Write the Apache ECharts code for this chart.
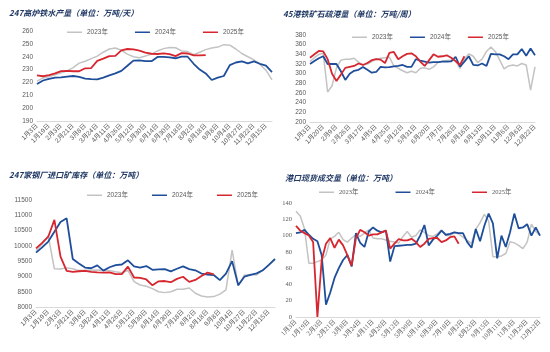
<!DOCTYPE html>
<html>
<head>
<meta charset="utf-8">
<script src="https://cdn.jsdelivr.net/npm/echarts@6/dist/echarts.min.js"></script>
<style>
html, body { margin: 0; padding: 0; background: #fff; }
#chart { width: 550px; height: 352px; }
</style>
</head>
<body>
<div id="chart"></div>
<script>
// 247高炉铁水产量 / 247家钢厂进口矿库存 的日期轴
const datesA = ['1月3日','1月11日','1月19日','1月26日','2月3日','2月12日','2月21日','2月28日','3月8日','3月15日',
    '3月24日','4月2日','4月11日','4月18日','4月26日','5月4日','5月12日','5月21日','5月30日','6月6日',
    '6月14日','6月22日','6月30日','7月9日','7月18日','7月25日','8月2日','8月9日','8月18日','8月28日',
    '9月8日','9月20日','10月4日','10月16日','10月27日','11月9日','11月22日','12月3日','12月15日','12月25日'];
// 45港疏港量 的日期轴
const datesB = ['1月3日','1月10日','1月13日','1月20日','1月27日','2月2日','2月9日','2月16日','2月19日','2月26日',
    '3月3日','3月10日','3月17日','3月24日','3月31日','4月5日','4月14日','4月18日','4月25日','4月28日',
    '5月5日','5月12日','5月19日','5月26日','5月31日','6月9日','6月16日','6月20日','6月23日','6月30日',
    '7月7日','7月14日','7月21日','7月26日','8月4日','8月11日','8月16日','8月25日','9月1日','9月13日',
    '9月22日','10月6日','10月11日','10月20日','10月27日','11月6日','11月10日','11月17日','12月6日','12月8日',
    '12月15日','12月22日'];
// 港口现货成交量 的日期轴
const datesC = ['1月3日','1月8日','1月13日','1月19日','1月24日','1月29日','2月3日','2月9日','2月15日','2月21日',
    '2月26日','3月3日','3月8日','3月13日','3月19日','3月24日','3月30日','4月5日','4月11日','4月16日',
    '4月21日','4月26日','5月2日','5月7日','5月12日','5月18日','5月24日','5月30日','6月4日','6月9日',
    '6月14日','6月19日','6月25日','6月30日','7月6日','7月12日','7月18日','7月23日','7月28日','8月2日',
    '8月9日','8月16日','8月23日','8月30日','9月7日','9月15日','9月23日','10月1日','10月11日','10月19日',
    '10月26日','11月3日','11月12日','11月20日','11月29日','12月7日','12月15日','12月22日'];

const years = ['2023年', '2024年', '2025年'];

const furnace2023 = [221,223.5,224.5,226,227.5,229,231.5,235,236.5,238.5,240.5,243.5,246,246.8,245,242,240,239.2,240.5,242,
    244.5,246.3,247.2,247,244.5,244,241.5,243.5,245.5,246.8,247.5,249.4,249,246,242.5,240,237.5,234,229.5,222];
const furnace2024 = [218.8,221.5,222.7,223.7,224,224.5,225,224.3,223,222.5,222.3,223.8,225.5,227,229,233,237,237.2,236.5,236.5,
    239.8,239.8,239.5,238.8,240,240,234.5,230,227,221.9,223.8,225,233.5,235.5,236.4,234.8,236.4,234.5,233,228];
const furnace2025 = [225.5,224.8,225.6,227,228.8,229,228.7,228.7,231,231.2,236.8,238.5,240.5,240.6,245,246,245.7,244.7,243.2,242.3,
    242.1,242.6,242,240.5,242.8,242.5,241,241,241.3];

const port2023 = [325,333,340,342,262,275,312,328,330,330,332,324,318,320,325,330,332,333,334,316,
    311,306,302,305,302,311,312,309,314,323,326,327,328,326,311,330,341,336,323,330,
    346,355,346,328,310,316,318,316,321,318,266,314];
const port2024 = [320,326,332,336,320,320,320,305,287,300,306,308,314,308,302,303.5,314,313,313.5,315,
    316,318,314,314,330,327,325,323,324,324,325,325,325.5,335,314.5,325,336,318,317,321,
    316,341,340,340,336,330,340,340,351,337,352,338];
const port2025 = [333,340,347,346,330,300,285,298,312,314,316,321,318,322,328,330,329,322,343,345,
    330,336,341,342,336,325,316,328,340,335,336,338,333,326,318,336];

const stock2023 = [9850,10050,10330,9250,9240,9280,9250,9190,9200,9205,9212,9200,9190,9150,9120,9200,8830,8720,8680,8600,
    8500,8470,8500,8580,8580,8620,8450,8360,8330,8340,8420,8560,9860,8700,9040,9060,9050,9200,9380,9560];
const stock2024 = [9780,9950,10140,10460,10780,10900,9570,9420,9290,9267,9360,9190,9300,9370,9390,9528,9330,9290,9340,9215,
    9230,9240,9165,9250,9330,9240,9200,9095,9060,9045,8880,9090,9500,8710,8990,9050,9100,9200,9380,9570];
const stock2025 = [9920,10100,10300,10850,9650,9180,9150,9170,9180,9150,9135,9125,9130,9075,9075,9322,8965,8950,8900,8710,
    8840,8850,8810,8920,8990,8820,8885,9016,9125,9070];

const trade2023 = [130,124,108,66,66,68,70,76,96,99,104,95,92,97,101,99,103,107,97,96,
    96,94.6,93,92,91,99,105,98,100,107,104,100,99,102,107,100,100,104,102,98,
    94,90.5,108,116,126,118,74,74,75,78,92.5,91,88,84,92,114,105,100];
const trade2024 = [103,104,107,101,96,93,76,15,30,48,60,70,76,62,103,91,86,105,110,106,
    104,106,68,87,87.5,88,88.5,88.5,90,100,113,88,95,100,106,101,102,104,103,103,
    92,85,108,93,112,127,115,72,100,86,104,127,109,110,114,100,110,100];
const trade2025 = [112,106,103,100,92,0,70,90,97,85,95,88,76,63,97,107,104,100,101.5,101.5,
    104,106,84,90,95.8,94,94,96,92,86,90,96,97,97,92,94,98,99,90];

const colors = { '2023年': '#C3C3C3', '2024年': '#1F4E9A', '2025年': '#D6262F' };
const labelColor = '#595959';
const sansFont = 'Liberation Sans, "Noto Sans CJK SC", sans-serif';
const serifFont = 'Liberation Serif, "Noto Sans CJK SC", serif';

const panels = [
    { title: '247高炉铁水产量（单位：万吨/天）', tx: 4, ty: 4, dates: datesA, step: 1,
      grid: { left: 37, top: 31, width: 235, height: 90 }, min: 190, max: 260, interval: 10,
      legend: { left: 62, top: 24, gap: 27 }, data: [furnace2023, furnace2024, furnace2025], font: sansFont },
    { title: '45港铁矿石疏港量（单位：万吨/周）', tx: 278, ty: 5, dates: datesB, step: 2,
      grid: { left: 310, top: 35, width: 225, height: 87 }, min: 200, max: 380, interval: 20,
      legend: { left: 347, top: 29, gap: 17 }, data: [port2023, port2024, port2025], font: sansFont },
    { title: '247家钢厂进口矿库存（单位：万吨）', tx: 4, ty: 166, dates: datesA, step: 1,
      grid: { left: 36, top: 200, width: 239, height: 107 }, min: 8000, max: 11500, interval: 500,
      legend: { left: 82, top: 187, gap: 24 }, data: [stock2023, stock2024, stock2025], font: sansFont },
    { title: '港口现货成交量（单位：万吨）', tx: 280, ty: 169, dates: datesC, step: 2,
      grid: { left: 296, top: 203, width: 244, height: 114 }, min: 0, max: 140, interval: 20,
      legend: { left: 314, top: 184, gap: 37 }, data: [trade2023, trade2024, trade2025], font: serifFont }
];

const option = {
    backgroundColor: '#fff',
    animation: false,
    title: [], grid: [], xAxis: [], yAxis: [], legend: [], series: []
};

panels.forEach((p, i) => {
    option.title.push({
        text: p.title, left: p.tx, top: p.ty,
        textStyle: { fontSize: 8, fontWeight: 'bold', fontStyle: 'italic', color: '#1F3864', fontFamily: '"Noto Sans CJK SC"' }
    });
    option.grid.push(Object.assign({ containLabel: false }, p.grid));
    option.xAxis.push({
        type: 'category', gridIndex: i, data: p.dates, boundaryGap: false,
        axisLine: { lineStyle: { color: '#D9D9D9' } },
        axisTick: { show: false },
        axisLabel: { interval: p.step, rotate: 45, fontSize: 6.5, color: labelColor, fontFamily: p.font, margin: 4 },
        splitLine: { show: false }
    });
    option.yAxis.push({
        type: 'value', gridIndex: i, min: p.min, max: p.max, interval: p.interval,
        axisLine: { show: false }, axisTick: { show: false },
        axisLabel: { fontSize: 6.5, color: labelColor, fontFamily: p.font, margin: 4, formatter: v => String(v) },
        splitLine: { show: false }
    });
    option.legend.push({
        data: years, left: p.legend.left, top: p.legend.top, itemGap: p.legend.gap,
        icon: 'rect', itemWidth: 15, itemHeight: 1.5, itemTextGap: 3,
        textStyle: { fontSize: 6.5, color: labelColor, fontFamily: p.font },
        selectedMode: false
    });
    years.forEach((y, k) => {
        option.series.push({
            name: y, type: 'line', xAxisIndex: i, yAxisIndex: i, data: p.data[k],
            symbol: 'none', smooth: false,
            lineStyle: { width: k === 0 ? 1.5 : 1.8, color: colors[y] },
            itemStyle: { color: colors[y] }
        });
    });
});

const chart = echarts.init(document.getElementById('chart'));
chart.setOption(option);
</script>
</body>
</html>
